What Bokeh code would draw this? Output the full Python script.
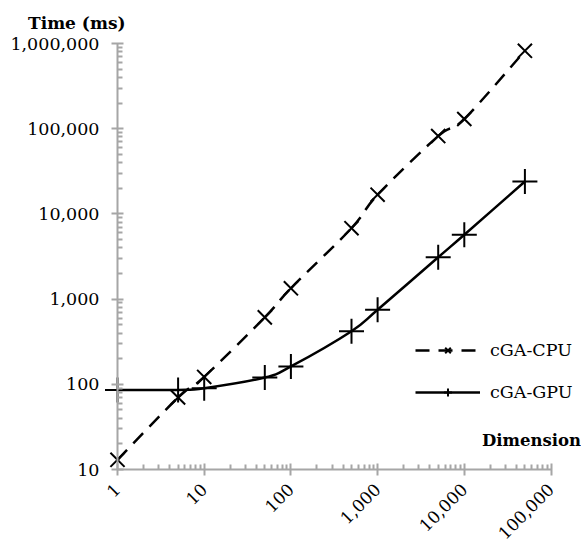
import math
from bokeh.plotting import figure
from bokeh.models import (Range1d, FixedTicker, NumeralTickFormatter, Label, Legend, LegendItem)
from bokeh.embed import file_html
from bokeh.resources import INLINE

dimension = [1, 5, 10, 50, 100, 500, 1000, 5000, 10000, 50000]
cpu_ms = [13, 70, 122, 610, 1340, 6800, 16800, 82000, 130000, 820000]
gpu_ms = [86, 86, 90, 120, 162, 420, 750, 3100, 5700, 24000]
x_ticks = [1, 10, 100, 1000, 10000, 100000]
y_ticks = [10, 100, 1000, 10000, 100000, 1000000]

FONT = "DejaVu Serif"
AXIS_COLOR = "#a6a6a6"

W, H = 581, 545
PX_DEC_X, PX_DEC_Y = 86.7, 85.2
# frame covers the whole canvas; x=1 at px 117, y=1e6 at px 43
x0 = -117 / PX_DEC_X
x1 = (W - 117) / PX_DEC_X
y1 = 6 + 43 / PX_DEC_Y
y0 = 6 - (H - 43) / PX_DEC_Y

p = figure(width=W, height=H, x_axis_type="log", y_axis_type="log",
           x_range=Range1d(10 ** x0, 10 ** x1), y_range=Range1d(10 ** y0, 10 ** y1),
           output_backend="svg", toolbar_location=None,
           min_border=0, min_border_left=0, min_border_right=0,
           min_border_top=0, min_border_bottom=0)
p.outline_line_color = None
p.grid.visible = False
p.background_fill_color = "white"

minor_x = [m * d for d in x_ticks[:-1] for m in range(2, 10)]
minor_y = [m * d for d in y_ticks[:-1] for m in range(2, 10)]

for ax, ticks, minor, loc, bnd in ((p.xaxis[0], x_ticks, minor_x, 10, (1, 100000)),
                                   (p.yaxis[0], y_ticks, minor_y, 1, (10, 1000000))):
    ax.ticker = FixedTicker(ticks=ticks, minor_ticks=minor)
    ax.formatter = NumeralTickFormatter(format="0,0")
    ax.fixed_location = loc
    ax.bounds = bnd
    ax.axis_line_color = AXIS_COLOR
    ax.axis_line_width = 2
    ax.major_tick_line_color = AXIS_COLOR
    ax.major_tick_line_width = 2
    ax.minor_tick_line_color = AXIS_COLOR
    ax.minor_tick_line_width = 2
    ax.major_tick_in = 6
    ax.major_tick_out = 6
    ax.minor_tick_in = 5
    ax.minor_tick_out = 0
    ax.major_label_text_font = FONT
    ax.major_label_text_font_size = "17.5px"
    ax.major_label_text_color = "black"

p.yaxis[0].major_label_standoff = 12
p.xaxis[0].major_label_orientation = math.pi / 4
p.xaxis[0].major_label_standoff = 11
p.xaxis[0].major_label_text_font_size = "17px"


def smooth_segments(xs, ys):
    """Catmull-Rom style smoothing (as the spreadsheet's smoothed line) -> cubic Bezier controls."""
    u = [math.log10(v) * PX_DEC_X for v in xs]
    w = [math.log10(v) * PX_DEC_Y for v in ys]
    n = len(u)
    seg = dict(x0=[], y0=[], x1=[], y1=[], cx0=[], cy0=[], cx1=[], cy1=[])
    for i in range(n - 1):
        a, b = max(i - 1, 0), min(i + 2, n - 1)
        c0u = u[i] + (u[i + 1] - u[a]) / 6
        c0w = w[i] + (w[i + 1] - w[a]) / 6
        c1u = u[i + 1] - (u[b] - u[i]) / 6
        c1w = w[i + 1] - (w[b] - w[i]) / 6
        seg["x0"].append(xs[i]); seg["y0"].append(ys[i])
        seg["x1"].append(xs[i + 1]); seg["y1"].append(ys[i + 1])
        seg["cx0"].append(10 ** (c0u / PX_DEC_X)); seg["cy0"].append(10 ** (c0w / PX_DEC_Y))
        seg["cx1"].append(10 ** (c1u / PX_DEC_X)); seg["cy1"].append(10 ** (c1w / PX_DEC_Y))
    return seg


cpu_seg = smooth_segments(dimension, cpu_ms)
gpu_seg = smooth_segments(dimension, gpu_ms)
b_cpu = p.bezier(source=cpu_seg, x0="x0", y0="y0", x1="x1", y1="y1", cx0="cx0", cy0="cy0",
                 cx1="cx1", cy1="cy1", line_color="black", line_width=2.5, line_dash="14 9")
b_gpu = p.bezier(source=gpu_seg, x0="x0", y0="y0", x1="x1", y1="y1", cx0="cx0", cy0="cy0",
                 cx1="cx1", cy1="cy1", line_color="black", line_width=2.5)

s_cpu = p.scatter(dimension, cpu_ms, marker="x", size=20, line_color="black", line_width=2)
s_gpu = p.scatter(dimension, gpu_ms, marker="cross", size=25, line_color="black", line_width=2)

legend = Legend(items=[LegendItem(label="cGA-CPU", renderers=[b_cpu, s_cpu]),
                       LegendItem(label="cGA-GPU", renderers=[b_gpu, s_gpu])],
                location=(415, 143), glyph_width=65, glyph_height=20, label_standoff=10,
                spacing=22, padding=0, margin=0, border_line_alpha=0,
                background_fill_alpha=0, label_text_font=FONT,
                label_text_font_size="17.5px", label_text_color="black")
p.add_layout(legend)

p.add_layout(Label(x=1, y=1000000, x_offset=8, y_offset=21, text="Time (ms)",
                   text_align="right", text_baseline="middle", text_font=FONT,
                   text_font_style="bold", text_font_size="17px", text_color="black"))
p.add_layout(Label(x=100000, y=10 ** 1.34, x_offset=30, y_offset=0, text="Dimension",
                   text_align="right", text_baseline="middle", text_font=FONT,
                   text_font_style="bold", text_font_size="16.5px", text_color="black"))

open("out.html", "w").write(file_html(p, INLINE))
